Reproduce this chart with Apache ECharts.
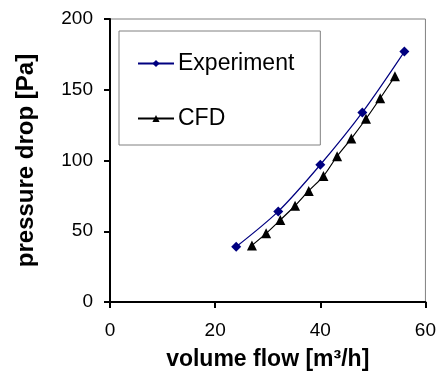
<!DOCTYPE html>
<html>
<head>
<meta charset="utf-8">
<script src="https://cdn.jsdelivr.net/npm/echarts@6/dist/echarts.min.js"></script>
<style>
  html, body { margin: 0; padding: 0; background: #fff; }
  #chart { width: 439px; height: 376px; }
</style>
</head>
<body>
<div id="chart"></div>
<script>
// Measured pressure drop vs. volume flow
const expFlow = [24, 32, 40, 48, 56];
const expDrop = [39, 64, 97, 134, 177];

// CFD simulation results
const cfdFlow = [27, 29.7, 32.4, 35.2, 37.8, 40.6, 43.2, 45.9, 48.7, 51.4, 54.2];
const cfdDrop = [40, 48.5, 58, 68, 78.5, 89, 103, 115.5, 129.5, 144, 159.5];

const xTicks = [0, 20, 40, 60];
const yTicks = [0, 50, 100, 150, 200];

const FONT = '"Liberation Sans", Arial, sans-serif';

const pairs = (xs, ys) => xs.map((x, i) => [x, ys[i]]);

const chart = echarts.init(document.getElementById('chart'), null, { renderer: 'canvas' });

chart.setOption({
  animation: false,
  backgroundColor: '#fff',
  grid: {
    left: 110, top: 19, right: 12, bottom: 74,
    show: true, borderColor: '#808080', borderWidth: 1,
    backgroundColor: 'transparent'
  },
  legend: {
    orient: 'vertical',
    left: 119, top: 31,
    padding: [21, 26, 15, 18],
    itemGap: 32,
    itemWidth: 36, itemHeight: 9,
    borderColor: '#808080', borderWidth: 1,
    backgroundColor: '#fff',
    textStyle: { fontFamily: FONT, fontSize: 23, color: '#000', padding: [0, 0, 0, -1] },
    data: ['Experiment', 'CFD']
  },
  xAxis: {
    type: 'value',
    min: xTicks[0], max: xTicks[xTicks.length - 1], interval: 20,
    name: 'volume flow [m³/h]',
    nameLocation: 'middle', nameGap: 46,
    nameTextStyle: { fontFamily: FONT, fontSize: 23, fontWeight: 'bold', color: '#000' },
    axisLine: { lineStyle: { color: '#000', width: 2 } },
    axisTick: { show: true, inside: false, length: 6, lineStyle: { color: '#000', width: 2 } },
    axisLabel: { fontFamily: FONT, fontSize: 19, color: '#000', margin: 19 },
    splitLine: { show: false }
  },
  yAxis: {
    type: 'value',
    min: yTicks[0], max: yTicks[yTicks.length - 1], interval: 50,
    name: 'pressure drop [Pa]',
    nameLocation: 'middle', nameGap: 72,
    nameTextStyle: { fontFamily: FONT, fontSize: 24, fontWeight: 'bold', color: '#000' },
    axisLine: { lineStyle: { color: '#000', width: 2 } },
    axisTick: { show: true, inside: false, length: 6, lineStyle: { color: '#000', width: 2 } },
    axisLabel: { fontFamily: FONT, fontSize: 19, color: '#000', margin: 17 },
    splitLine: { show: false }
  },
  series: [
    {
      name: 'Experiment',
      type: 'line',
      data: pairs(expFlow, expDrop),
      smooth: 0.3,
      symbol: 'diamond',
      symbolSize: 10,
      lineStyle: { color: '#000080', width: 1.2 },
      itemStyle: { color: '#000080' }
    },
    {
      name: 'CFD',
      type: 'line',
      data: pairs(cfdFlow, cfdDrop),
      smooth: 0.3,
      symbol: 'triangle',
      symbolSize: 10,
      lineStyle: { color: '#000', width: 1.2 },
      itemStyle: { color: '#000' }
    }
  ]
});
</script>
</body>
</html>
